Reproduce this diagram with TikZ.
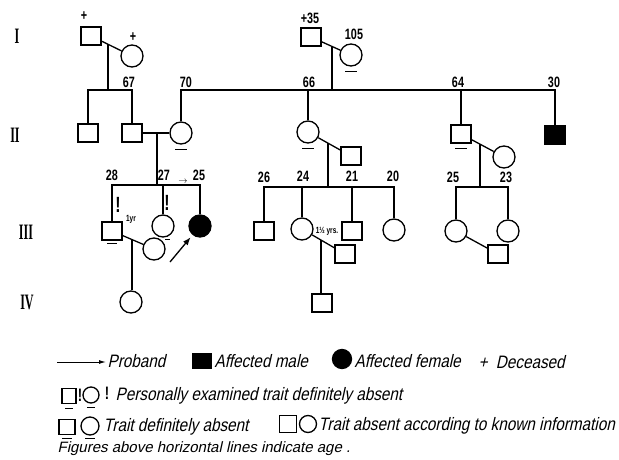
\documentclass[tikz,border=0pt]{standalone}
\usepackage{fontspec}
\usetikzlibrary{calc,arrows.meta}
\newfontfamily\agefont[FakeStretch=0.72]{Liberation Sans}
\newfontfamily\genfont[FakeStretch=0.55]{Liberation Serif}
\newfontfamily\legfont[FakeStretch=0.85,FakeSlant=0.22]{Liberation Sans}
\newfontfamily\notefont[FakeSlant=0.22]{Liberation Sans}
\newcommand{\ulin}[2][6]{\draw ($(#2.south)+(-#1,5)$) -- ($(#2.south)+(#1,5)$);}
\begin{document}
\begin{tikzpicture}[x=1pt,y=-1pt,line width=1.3pt,
		male/.style={draw,minimum width=20pt,minimum height=18pt,inner sep=0pt},
		female/.style={draw,circle,minimum size=22pt,inner sep=0pt},
		aff/.style={fill=black},
		age/.style={font=\agefont\bfseries\fontsize{15}{15}\selectfont,inner sep=0pt},
		gen/.style={font=\genfont\bfseries\fontsize{22}{22}\selectfont,inner sep=0pt},
		excl/.style={font=\agefont\bfseries\fontsize{22}{22}\selectfont,inner sep=0pt},
		leg/.style={font=\legfont\fontsize{18}{18}\selectfont,anchor=west,inner sep=0pt}]
		\useasboundingbox (0,0) rectangle (619,460);
		\node[gen] (gI) at (17,36) {I};
		\node[gen] (gII) at (15,135) {II};
		\node[gen] (gIII) at (26,232) {III};
		\node[gen] (gIV) at (27,302) {IV};
		\node[male] (i1) at (91,36) {};
		\node[female] (i2) at (132,56) {};
		\node[male] (i3) at (311,37) {};
		\node[female] (i4) at (351,55) {};
		\node[age] (d1) at (84,16) {+};
		\node[age] (d2) at (133,37) {+};
		\node[age] (d3) at (310,18) {+35};
		\node[age] (a105) at (354,34) {105};
		\draw (i1) -- (i2);
		\draw (i3) -- (i4);
		\ulin{i4}
		\coordinate (yI) at (0,90);
		\coordinate (yIIa) at (0,185);
		\coordinate (yIIb) at (0,187);
		\coordinate (m1) at ($(i1)!0.415!(i2)$);
		\coordinate (m2) at ($(i3)!0.525!(i4)$);
		\node[male] (ii1) at (88,133) {};
		\node[male] (ii2) at (132,133) {};
		\node[female] (ii3) at (181,133) {};
		\node[female] (ii4) at (308,132) {};
		\node[male] (ii5) at (351,156) {};
		\node[male] (ii6) at (461,134) {};
		\node[female] (ii7) at (504,157) {};
		\node[male,aff] (ii8) at (555,135) {};
		\draw (m1) -- (m1 |- yI);
		\draw (ii1) |- (ii2 |- yI) -- (ii2);
		\draw (m2) -- (m2 |- yI);
		\draw (ii3) |- (ii8 |- yI) -- (ii8);
		\draw (ii4) -- (ii4 |- yI);
		\draw (ii6) -- (ii6 |- yI);
		\node[age] (a67) at (129,82) {67};
		\node[age] (a70) at (186,82) {70};
		\node[age] (a66) at (309,82) {66};
		\node[age] (a64) at (458,82) {64};
		\node[age] (a30) at (554,82) {30};
		\draw (ii2) -- (ii3);
		\draw (ii4) -- (ii5);
		\draw (ii6) -- (ii7);
		\ulin{ii3}
		\ulin{ii4}
		\ulin{ii6}
		\coordinate (m3) at ($(ii2)!0.51!(ii3)$);
		\coordinate (m4) at ($(ii4)!0.465!(ii5)$);
		\coordinate (m5) at ($(ii6)!0.44!(ii7)$);
		\node[male] (iii1) at (112,231) {};
		\node[female] (iii2) at (163,226) {};
		\node[female,aff] (iii3) at (200,226) {};
		\node[female] (iii1w) at (154,249) {};
		\node[male] (iii4) at (264,231) {};
		\node[female] (iii5) at (302,229) {};
		\node[male] (iii5h) at (345,254) {};
		\node[male] (iii6) at (352,231) {};
		\node[female] (iii7) at (394,230) {};
		\node[female] (iii8) at (456,231) {};
		\node[male] (iii8h) at (498,254) {};
		\node[female] (iii9) at (508,231) {};
		\draw (m3) -- (m3 |- yIIa);
		\draw (iii1) |- (iii3 |- yIIa) -- (iii3);
		\draw (iii2) -- (iii2 |- yIIa);
		\draw (m4) -- (m4 |- yIIb);
		\draw (iii4) |- (iii7 |- yIIb) -- (iii7);
		\draw (iii5) -- (iii5 |- yIIb);
		\draw (iii6) -- (iii6 |- yIIb);
		\draw (m5) -- (m5 |- yIIb);
		\draw (iii8) |- (iii9 |- yIIb) -- (iii9);
		\node[age] (a28) at (112,175) {28};
		\node[age] (a27) at (164,175) {27};
		\node[age] (a25) at (199,175) {25};
		\node[age,font=\fontsize{9}{9}\selectfont] (tick) at (183,182) {$\to$};
		\node[age] (a26) at (264,177) {26};
		\node[age] (a24) at (303,176) {24};
		\node[age] (a21) at (352,176) {21};
		\node[age] (a20) at (393,176) {20};
		\node[age] (a25b) at (453,177) {25};
		\node[age] (a23) at (506,177) {23};
		\draw (iii1) -- (iii1w);
		\draw (iii5) -- (iii5h);
		\draw (iii8) -- (iii8h);
		\node[excl] (x1) at (118,205) {!};
		\node[excl] (x2) at (167,203) {!};
		\draw[line width=0.6pt] ($(iii1.south)+(-5,3)$) -- ($(iii1.south)+(5,3)$);
		\draw[line width=0.8pt] ($(iii2.south)+(2,2)$) -- ($(iii2.south)+(7,2)$);
		\node[age,font=\agefont\bfseries\fontsize{9}{9}\selectfont] (yr1) at (131,219) {1yr};
		\node[age,font=\agefont\bfseries\fontsize{9}{9}\selectfont] (yr2) at (327,231) {1½ yrs.};
		\coordinate (m6) at ($(iii1)!0.476!(iii1w)$);
		\coordinate (m7) at ($(iii5)!0.442!(iii5h)$);
		\node[female] (iv1) at (131,302) {};
		\node[male] (iv2) at (322,303) {};
		\draw (m6) -- (m6 |- iv1.north);
		\draw (m7) -- (m7 |- iv2.north);
		\coordinate (pb) at (170,262);
		\draw[-{Latex[length=8pt,width=6pt]},shorten >=3pt] (pb) -- (iii3);
		\coordinate (la) at (57,362);
		\coordinate (lb) at (106,362);
		\draw[line width=1pt,-{Latex[length=7pt,width=4pt]}] (la) -- (lb);
		\node[leg] (tprob) at (107,361) {Proband};
		\node[male,aff,minimum width=19pt,minimum height=15pt] (lm) at (202,361) {};
		\node[leg] (tam) at (214,361) {Affected male};
		\node[female,aff,minimum size=19pt] (lf) at (342,359) {};
		\node[leg] (taf) at (354,361) {Affected female};
		\node[leg] (tdec) at (478,362) {+\hspace{4pt} Deceased};
		\node[male,minimum width=14pt,minimum height=15pt] (lx1) at (69,396) {};
		\node[excl,font=\agefont\bfseries\fontsize{18}{18}\selectfont] (lx2) at (80,395) {!};
		\node[female,minimum size=16pt] (lx3) at (91,395) {};
		\node[excl,font=\agefont\bfseries\fontsize{18}{18}\selectfont] (lx4) at (107,393) {!};
		\draw[line width=0.8pt] ($(lx1.south)+(-4,4)$) -- ($(lx1.south)+(4,4)$);
		\draw[line width=0.8pt] ($(lx3.south)+(-4,4)$) -- ($(lx3.south)+(4,4)$);
		\node[leg] (tpers) at (115,396) {Personally examined trait definitely absent};
		\node[male,minimum width=16pt,minimum height=15pt] (ld1) at (67,427) {};
		\node[female,minimum size=18pt] (ld2) at (90,426) {};
		\draw ($(ld1.south)+(-5,3)$) -- ($(ld1.south)+(5,3)$);
		\draw ($(ld2.south)+(-5,3)$) -- ($(ld2.south)+(5,3)$);
		\node[leg] (tdef) at (103,427) {Trait definitely absent};
		\node[male,minimum width=17pt,minimum height=17pt] (lk1) at (288,424) {};
		\node[female,minimum size=17pt] (lk2) at (308,424) {};
		\node[leg] (tknown) at (318,426) {Trait absent according to known information};
		\node[leg,font=\notefont\fontsize{15}{15}\selectfont] (tnote) at (57,449) {Figures above horizontal lines indicate age .};
\end{tikzpicture}
\end{document}
